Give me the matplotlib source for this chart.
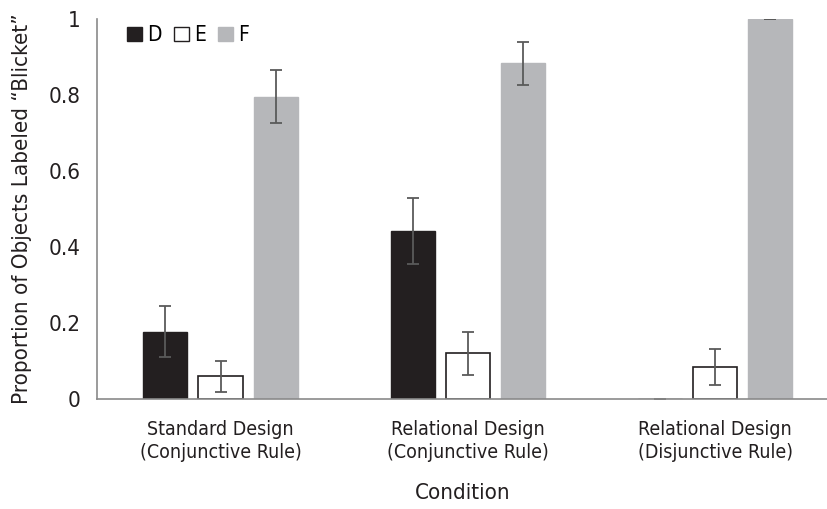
import matplotlib.pyplot as plt
import numpy as np
from matplotlib.patches import Patch

# Colours
DARK = '#231f20'
LIGHT = '#b6b7ba'
ERR = '#5a5a5a'
SPINE = '#8a8a8a'
TEXT = '#231f20'

conditions = ['Standard Design\n(Conjunctive Rule)',
              'Relational Design\n(Conjunctive Rule)',
              'Relational Design\n(Disjunctive Rule)']
series = ['D', 'E', 'F']
d_vals = [0.177, 0.441, 0.0]
e_vals = [0.060, 0.120, 0.085]
f_vals = [0.795, 0.883, 1.0]
d_err = [0.067, 0.087, 0.0]
e_err = [0.041, 0.056, 0.047]
f_err = [0.070, 0.056, 0.0]

plt.rcParams['font.family'] = ['DejaVu Sans']
plt.rcParams['font.stretch'] = 'condensed'

fig = plt.figure(figsize=(8.28, 5.09), dpi=100)
ax = fig.add_axes([0.117, 0.216, 0.883, 0.747])

x = np.arange(len(conditions))
w = 0.178
step = 0.223
err_kw = dict(ecolor=ERR, elinewidth=1.3, capsize=4, capthick=1.3)

ax.bar(x - step, d_vals, w, color=DARK, edgecolor=DARK, yerr=d_err, error_kw=err_kw, zorder=2)
ax.bar(x, e_vals, w, color='white', edgecolor=DARK, linewidth=1.2, yerr=e_err, error_kw=err_kw, zorder=2)
ax.bar(x + step, f_vals, w, color=LIGHT, edgecolor=LIGHT, yerr=f_err, error_kw=err_kw, zorder=2)

ax.set_xlim(-0.5, 2.457)
ax.set_ylim(0, 1)
ax.set_yticks([0, 0.2, 0.4, 0.6, 0.8, 1])
ax.set_yticklabels(['0', '0.2', '0.4', '0.6', '0.8', '1'])
ax.set_xticks(x)
ax.set_xticklabels(conditions, fontsize=14, color=TEXT, linespacing=1.3)
ax.tick_params(axis='y', length=0, pad=12, labelsize=16, labelcolor=TEXT)
ax.tick_params(axis='x', length=0, pad=15)

for s in ['top', 'right']:
    ax.spines[s].set_visible(False)
for s in ['left', 'bottom']:
    ax.spines[s].set_color(SPINE)
    ax.spines[s].set_linewidth(1.2)

ax.set_ylabel('Proportion of Objects Labeled \u201cBlicket\u201d', fontsize=16, color=TEXT, labelpad=12)
ax.set_xlabel('Condition', fontsize=16, color=TEXT, labelpad=15)

handles = [Patch(facecolor=DARK, edgecolor=DARK),
           Patch(facecolor='white', edgecolor=DARK),
           Patch(facecolor=LIGHT, edgecolor=LIGHT)]
ax.legend(handles, series, loc='upper left', bbox_to_anchor=(0.03, 1.005), ncol=3,
          frameon=False, fontsize=15, handlelength=0.7, handleheight=0.7,
          handletextpad=0.25, columnspacing=0.6, borderaxespad=0)

fig.savefig('out.png', dpi=100)
